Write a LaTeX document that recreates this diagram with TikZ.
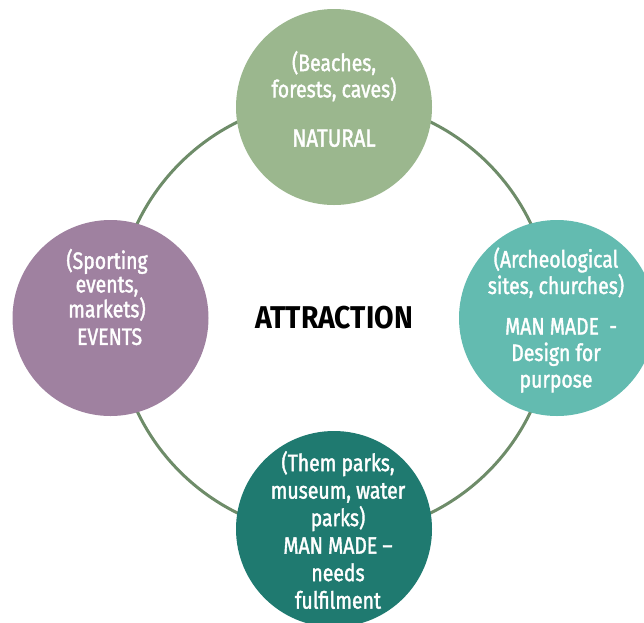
\documentclass[tikz,border=0pt]{standalone}
\usepackage{fontspec}
\setmainfont[FakeStretch=0.82,FakeBold=1.6]{Fira Sans}
\newfontfamily\titlefont[FakeStretch=0.9]{Fira Sans}
\definecolor{ringline}{HTML}{6E8C69}
\definecolor{natfill}{HTML}{9BB78E}
\definecolor{evtfill}{HTML}{9F81A0}
\definecolor{archfill}{HTML}{63BBB0}
\definecolor{parkfill}{HTML}{1F7A70}
\begin{document}
\begin{tikzpicture}[x=1pt,y=-1pt,
  hub/.style={circle, minimum size=196pt, inner sep=0pt, draw=none},
  circletext/.style={align=center, text=white, inner sep=0pt,
    font=\fontsize{23.7}{#1}\selectfont},
  ringstyle/.style={draw=ringline, line width=3pt}]
\useasboundingbox (0,0) rectangle (644,622);
\clip (0,0) rectangle (644,622);
% ring joining the four categories
\coordinate (ringc) at (334,317.5);
\draw[ringstyle] (ringc) circle[radius=218];
% category discs
\node[hub, fill=natfill]  (natural) at (334,107) {};
\node[hub, fill=evtfill]  (events)  at (110.5,318) {};
\node[hub, fill=archfill] (design)  at (557,318) {};
\node[hub, fill=parkfill] (parks)   at (334,529) {};
% texts
\node[circletext=26.3] (naturaltext) at (334,99)
  {(Beaches,\\forests, caves)\\[23pt]{\fontsize{25}{26}\selectfont NATURAL}};
\node[circletext=23.5] (eventstext) at (107,297)
  {(Sporting\\events,\\markets)\\[4pt]\ EVENTS};
\node[circletext=26.5] (designtext) at (556,320)
  {(Archeological\\sites, churches)\\[14pt]\ \ MAN MADE\ \ -\\Design for\\purpose};
\node[circletext=27.5] (parkstext) at (338,530)
  {(Them parks,\\museum, water\\parks)\\MAN MADE –\\needs\\fulfilment};
\node[font=\titlefont\fontsize{31.5}{36}\selectfont\bfseries, inner sep=0pt] (title) at (ringc) {ATTRACTION};
\end{tikzpicture}
\end{document}
